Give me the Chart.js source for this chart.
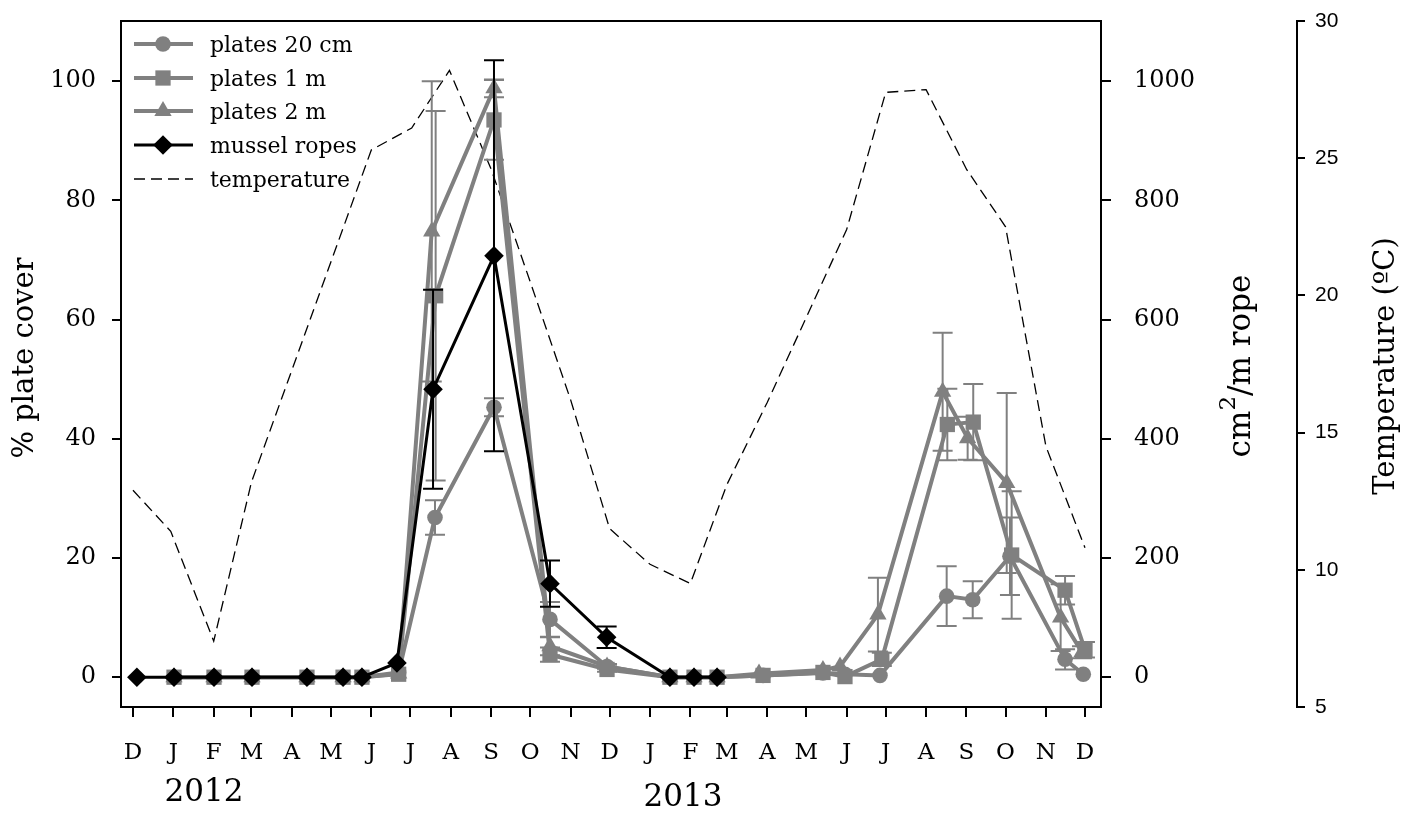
<!DOCTYPE html>
<html><head><meta charset="utf-8">
<script src="https://cdn.jsdelivr.net/npm/chart.js@4.4.1/dist/chart.umd.min.js"></script>
<style>html,body{margin:0;padding:0;background:#fff}#wrap{width:1418px;height:814px;position:relative}</style>
</head><body><div id="wrap"><canvas id="c"></canvas></div>
<script>
// ---- axis ticks / labels ----
const monthDays = [0,31,62,91,122,152,183,213,244,275,305,336,366,397,428,456,487,517,548,578,609,640,670,701,731];
const monthLabels = ['D','J','F','M','A','M','J','J','A','S','O','N','D','J','F','M','A','M','J','J','A','S','O','N','D'];
const yearLabels = ['2012','2013'];
const leftTicks = [0,20,40,60,80,100];
const ropeTicks = [0,200,400,600,800,1000];
const tempTicks = [5,10,15,20,25,30];

// ---- series (x = days since 1 Dec 2011) ----
const days20cm = [31.5,62.2,91.4,133.6,161.3,175.8,204,231.9,277.2,320.2,364,412.3,430.8,448.5,483.8,529.8,546.7,573.6,624.8,644.8,673.4,715.7,729.7];
const plates20cm = [0,0,0,0,0,0,0.8,26.8,45.3,9.7,1.8,0,0,0,0.3,0.7,0.5,0.3,13.6,13.0,20.3,3.0,0.5];
const err20cm =    [0,0,0,0,0,0,0,2.9,1.5,2.9,0.4,0,0,0,0,0,0,0,5.0,3.1,6.5,1.7,0];

const days1m = [31.5,62.2,91.4,133.6,161.3,175.8,204,232.4,277.2,320.2,364,412.3,430.8,448.5,483.8,529.8,546.7,575,625.3,645.2,674.7,715.7,731];
const plates1m = [0,0,0,0,0,0,0.5,64,93.5,3.8,1.3,0,0,0,0.3,0.8,0.1,3.0,42.4,42.8,20.5,14.6,4.6];
const err1m =    [0,0,0,0,0,0,0,31,6.7,1.2,0.4,0,0,0,0,0,0,1.1,6.0,6.4,10.7,2.4,1.3];

const days2m = [31.5,62.2,91.4,133.6,161.3,175.8,204,229.4,277.2,320.2,364,412.3,430.8,448.5,480.7,529.8,542.9,572,621.7,640.9,670.9,712.3,728.7];
const plates2m = [0,0,0,0,0,0,0.6,74.8,98.8,5.2,1.8,0,0,0,0.6,1.2,1.8,10.5,47.9,40.1,32.6,10.0,4.2];
const err2m =    [0,0,0,0,0,0,0,25.2,1.5,1.5,0.3,0,0,0,0,0,0,6.2,9.9,3.6,15.1,5.6,1.0];

const ropeDays = [3,31.5,62.2,91.4,133.6,161.3,175.8,202.7,230.4,277.2,320.2,363.7,412.3,430.8,448.5];
const ropeCover = [0,0,0,0,0,0,0,24,483,707,157,67,0,0,0];
const ropeErr =   [0,0,0,0,0,0,0,0,167,328,39,18,0,0,0];

const tempDays = [0,29,62,91,183,214,243,275,305,336,366,397,428,456,487,517,548,578,609,640,670,701,731];
const temperature = [12.9,11.4,7.4,13.2,25.3,26.1,28.2,24.6,20.5,16.2,11.5,10.2,9.5,13.1,16.1,19.2,22.4,27.4,27.5,24.6,22.5,14.5,10.8];

const GREY = '#808080';
const SERIF = 'DejaVu Serif';
const pts = (xs, ys) => xs.map((x, i) => ({x, y: ys[i]}));

function plateDs(label, xs, ys, errs, style, r) {
  return {label, data: pts(xs, ys), errors: errs, errColor: GREY, yAxisID: 'y',
    borderColor: GREY, backgroundColor: GREY, borderWidth: 4, tension: 0,
    pointStyle: style, pointRadius: r, pointBackgroundColor: GREY, pointBorderColor: GREY, pointBorderWidth: 0};
}

const datasets = [
  {label: 'mussel ropes', data: pts(ropeDays, ropeCover), errors: ropeErr, errColor: '#000', yAxisID: 'y2',
   borderColor: '#000', backgroundColor: '#000', borderWidth: 3, tension: 0,
   pointStyle: 'rectRot', pointRadius: 9.8, pointBackgroundColor: '#000', pointBorderColor: '#000', pointBorderWidth: 0},
  plateDs('plates 2 m', days2m, plates2m, err2m, 'triangle', 10),
  plateDs('plates 1 m', days1m, plates1m, err1m, 'rect', 10.8),
  plateDs('plates 20 cm', days20cm, plates20cm, err20cm, 'circle', 7.8),
  {label: 'temperature', data: pts(tempDays, temperature), yAxisID: 'y3',
   borderColor: '#000', borderWidth: 1.3, borderDash: [11, 6], pointRadius: 0, tension: 0, fill: false}
];

const errorBars = {
  id: 'errorBars',
  afterDatasetDraw(chart, args) {
    const ds = chart.data.datasets[args.index];
    if (!ds.errors) return;
    const ctx = chart.ctx, xs = chart.scales.x, ys = chart.scales[ds.yAxisID];
    ctx.save();
    ctx.strokeStyle = ds.errColor; ctx.lineWidth = 2;
    ds.data.forEach((p, i) => {
      const e = ds.errors[i]; if (!e) return;
      const x = xs.getPixelForValue(p.x);
      const yt = ys.getPixelForValue(p.y + e), yb = ys.getPixelForValue(p.y - e);
      ctx.beginPath();
      ctx.moveTo(x, yt); ctx.lineTo(x, yb);
      ctx.moveTo(x - 10, yt); ctx.lineTo(x + 10, yt);
      ctx.moveTo(x - 10, yb); ctx.lineTo(x + 10, yb);
      ctx.stroke();
    });
    ctx.restore();
  }
};

function marker(ctx, style, x, y, r) {
  ctx.beginPath();
  if (style === 'circle') ctx.arc(x, y, r, 0, Math.PI * 2);
  else if (style === 'rect') { const s = r * Math.SQRT1_2; ctx.rect(x - s, y - s, 2 * s, 2 * s); }
  else if (style === 'triangle') {
    for (let k = 0; k < 3; k++) { const a = k * 2 * Math.PI / 3; const px = x + Math.sin(a) * r, py = y - Math.cos(a) * r; k ? ctx.lineTo(px, py) : ctx.moveTo(px, py); }
    ctx.closePath();
  } else if (style === 'rectRot') { ctx.moveTo(x, y - r); ctx.lineTo(x + r, y); ctx.lineTo(x, y + r); ctx.lineTo(x - r, y); ctx.closePath(); }
  ctx.fill();
}

const decorations = {
  id: 'decorations',
  afterDraw(chart) {
    const ctx = chart.ctx, a = chart.chartArea;
    ctx.save();
    // frame
    ctx.strokeStyle = '#000'; ctx.lineWidth = 2;
    ctx.strokeRect(a.left, a.top, a.right - a.left, a.bottom - a.top);
    // legend
    const items = [
      {label: 'plates 20 cm', color: GREY, style: 'circle', r: 7.8, w: 4},
      {label: 'plates 1 m', color: GREY, style: 'rect', r: 10.8, w: 4},
      {label: 'plates 2 m', color: GREY, style: 'triangle', r: 10, w: 4},
      {label: 'mussel ropes', color: '#000', style: 'rectRot', r: 9.8, w: 3},
      {label: 'temperature', color: '#000', style: null, r: 0, w: 1.3}
    ];
    const rowY = [44, 78, 111, 145, 179];
    items.forEach((it, i) => {
      const y = rowY[i];
      ctx.strokeStyle = it.color; ctx.fillStyle = it.color; ctx.lineWidth = it.w;
      ctx.setLineDash(it.style ? [] : [11, 6]);
      ctx.beginPath(); ctx.moveTo(134, y); ctx.lineTo(193, y); ctx.stroke();
      ctx.setLineDash([]);
      if (it.style) marker(ctx, it.style, 163, y, it.r);
      ctx.fillStyle = '#000'; ctx.font = '22px "' + SERIF + '"';
      ctx.textAlign = 'left'; ctx.textBaseline = 'middle';
      ctx.fillText(it.label, 210, y + 2);
    });
    // axis titles
    ctx.fillStyle = '#000'; ctx.textBaseline = 'alphabetic'; ctx.textAlign = 'center';
    const vtext = (x, y, draw) => { ctx.save(); ctx.translate(x, y); ctx.rotate(-Math.PI / 2); draw(); ctx.restore(); };
    vtext(33, 358, () => { ctx.font = '29px "' + SERIF + '"'; ctx.fillText('% plate cover', 0, 0); });
    vtext(1394, 366, () => { ctx.font = '29px "' + SERIF + '"'; ctx.fillText('Temperature (ºC)', 0, 0); });
    vtext(1250, 366, () => {
      ctx.textAlign = 'left';
      ctx.font = '31px "' + SERIF + '"'; const w1 = ctx.measureText('cm').width, w3 = ctx.measureText('/m rope').width;
      ctx.font = '23px "' + SERIF + '"'; const w2 = ctx.measureText('2').width;
      let x = -(w1 + w2 + w3) / 2;
      ctx.font = '31px "' + SERIF + '"'; ctx.fillText('cm', x, 0); x += w1;
      ctx.font = '23px "' + SERIF + '"'; ctx.fillText('2', x, -15); x += w2;
      ctx.font = '31px "' + SERIF + '"'; ctx.fillText('/m rope', x, 0);
    });
    // year labels
    ctx.textAlign = 'center'; ctx.font = '31px "' + SERIF + '"';
    ctx.fillText(yearLabels[0], 204, 801);
    ctx.fillText(yearLabels[1], 683, 806);
    ctx.restore();
  }
};

const noPadV = s => { s.paddingTop = 0; s.paddingBottom = 0; };
const tickFont = {family: SERIF, size: 24};
new Chart(document.getElementById('c'), {
  type: 'line',
  data: {datasets},
  plugins: [errorBars, decorations],
  options: {
    responsive: true, maintainAspectRatio: false, animation: false, devicePixelRatio: 1,
    layout: {padding: {top: 21, left: 0, right: 0, bottom: 0}},
    plugins: {legend: {display: false}, tooltip: {enabled: false}},
    scales: {
      x: {type: 'linear', min: -9.2, max: 743.3,
        afterBuildTicks: s => { s.ticks = monthDays.map(v => ({value: v})); },
        ticks: {autoSkip: false, maxRotation: 0, padding: 22, color: '#000', font: {family: SERIF, size: 23},
          callback: (v, i) => monthLabels[i]},
        grid: {drawOnChartArea: false, drawTicks: true, tickLength: 10, color: '#000', lineWidth: 2},
        border: {display: false},
        afterFit: s => { s.height = 107; s.paddingLeft = 0; s.paddingRight = 0; }},
      y: {position: 'left', min: -5, max: 110.1,
        afterBuildTicks: s => { s.ticks = leftTicks.map(v => ({value: v})); },
        ticks: {padding: 16, color: '#000', font: tickFont, callback: v => String(v)},
        grid: {drawOnChartArea: false, tickLength: 9, color: '#000', lineWidth: 2},
        border: {display: false},
        afterFit: s => { s.width = 121; noPadV(s); }},
      y2: {position: 'right', min: -50, max: 1101,
        afterBuildTicks: s => { s.ticks = ropeTicks.map(v => ({value: v})); },
        ticks: {padding: 23, color: '#000', font: tickFont, callback: v => String(v)},
        grid: {drawOnChartArea: false, tickLength: 10, color: '#000', lineWidth: 2},
        border: {display: false},
        afterFit: s => { s.width = 196; noPadV(s); }},
      y3: {position: 'right', min: 5, max: 30,
        afterBuildTicks: s => { s.ticks = tempTicks.map(v => ({value: v})); },
        ticks: {padding: 10, color: '#000', font: {family: 'Liberation Sans', size: 21}, callback: v => String(v)},
        grid: {drawOnChartArea: false, tickLength: 8, color: '#000', lineWidth: 2},
        border: {display: true, color: '#000', width: 2},
        afterFit: s => { s.width = 121; noPadV(s); }}
    }
  }
});
</script></body></html>
